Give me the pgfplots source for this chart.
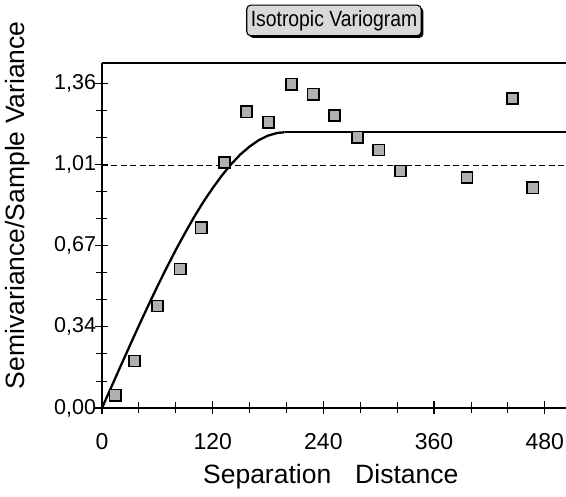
\documentclass[border=0pt]{standalone}
\usepackage{pgfplots}
\pgfplotsset{compat=1.18}
\usepackage{fontspec}
\setmainfont{Liberation Sans}
\newfontfamily\titlefont[FakeStretch=0.88]{Liberation Sans}
\usetikzlibrary{shadows}
\begin{document}
\begin{tikzpicture}
\begin{axis}[
  name=ax, anchor=south west, at={(0,0)},
  scale only axis, width=464pt, height=345pt,
  xmin=0, xmax=503, ymin=0, ymax=1.445,
  axis x line*=bottom, axis y line*=left,
  axis line style={line width=1.3pt},
  /pgf/number format/assume math mode=true,
  xtick={0,120,240,360,480},
  xticklabels={0,120,240,360,480},
  minor xtick={40,80,160,200,280,320,400,440},
  ytick={0,0.34,0.68,1.02,1.36},
  yticklabels={0{,}00,0{,}34,0{,}67,1{,}01,1{,}36},
  minor ytick={0.1133,0.2267,0.4533,0.5667,0.7933,0.9067,1.1333,1.2467},
  tick align=center,
  major tick length=13pt, minor tick length=11pt,
  major tick style={line width=1.2pt, black},
  minor tick style={line width=0.8pt, black},
  xticklabel style={font=\fontsize{23}{23}\selectfont, yshift=-15pt},
  yticklabel style={font=\fontsize{21.5}{21.5}\selectfont, xshift=4pt},
  xlabel={Separation\hspace{24pt}Distance},
  ylabel={Semivariance/Sample Variance},
  xlabel style={font=\fontsize{26.5}{26.5}\selectfont, at={(axis description cs:0.493,-0.199)}, anchor=center},
  ylabel style={font=\fontsize{26.5}{26.5}\selectfont, at={(axis description cs:-0.181,0.588)}, anchor=center},
  title={Isotropic Variogram},
  title style={font=\titlefont\fontsize{22}{22}\selectfont, at={(axis description cs:0.5,1.106)}, anchor=center,
    draw=black, line width=1.1pt, rounded corners=4pt, fill=gray!30,
    inner xsep=4pt, inner ysep=5pt,
    drop shadow={shadow xshift=2.2pt, shadow yshift=-2.2pt, fill=black, opacity=1}},
  clip=false,
]
\addplot[line width=0.9pt, black, dash pattern=on 6pt off 3.5pt] coordinates {(0,1.015) (503,1.015)};
\addplot[line width=2.3pt, black] coordinates {
  (0,0) (10,0.087) (20,0.174) (30,0.26) (40,0.345) (50,0.428) (60,0.509) (70,0.587) (80,0.662) (90,0.733) (100,0.801)
  (110,0.864) (120,0.921) (130,0.974) (140,1.021) (150,1.062) (160,1.095) (170,1.122) (180,1.141) (190,1.152) (198,1.155)};
\addplot[line width=2.3pt, black] coordinates {(198,1.155) (503,1.155)};
\addplot[only marks, mark=square*, mark size=5.6pt,
  mark options={fill=gray!62, draw=black, line width=1.6pt}] coordinates {
  (14.4,0.054) (35.3,0.197) (60.2,0.427) (84.8,0.582) (107.5,0.755)
  (132.8,1.028) (156.6,1.241) (180.4,1.197) (205.4,1.356) (228.9,1.314)
  (252,1.225) (276.9,1.134) (300,1.081) (323.4,0.993) (395.6,0.965)
  (444.8,1.297) (467.1,0.922)};
\draw[line width=1.3pt] (rel axis cs:0,1) -- (rel axis cs:1,1);
\end{axis}
\pgfresetboundingbox
\path (-102pt,-89pt) rectangle (464pt,408pt);
\end{tikzpicture}
\end{document}
